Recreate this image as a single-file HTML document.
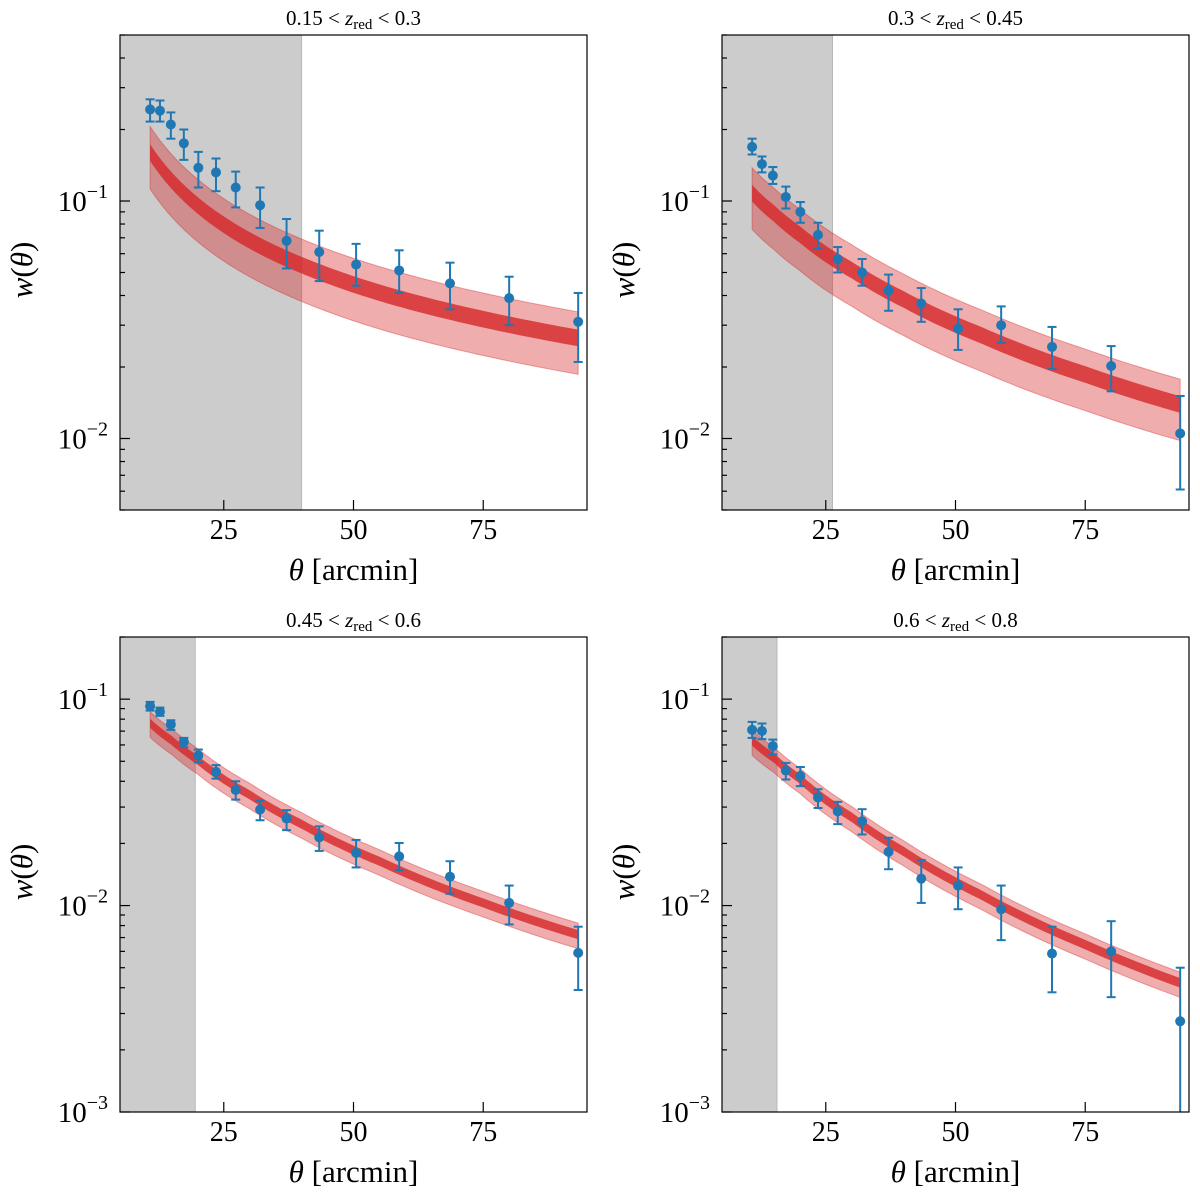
<!DOCTYPE html>
<html><head><meta charset="utf-8">
<style>
html,body{margin:0;padding:0;background:#fff;}
svg{display:block;font-family:"Liberation Serif","DejaVu Serif",serif;}
</style></head>
<body>
<svg id="fig" width="1200" height="1196" viewBox="0 0 1200 1196" xmlns="http://www.w3.org/2000/svg"></svg>
<script>
// ---- data ----
const thetas = [10.8,12.7,14.8,17.3,20.1,23.5,27.3,32,37.1,43.4,50.5,58.8,68.6,80,93.3];
const xTicks = [25,50,75];
const titles = ["0.15","0.3","0.3","0.45","0.45","0.6","0.6","0.8"];
const shadeEdges = [40, 26.3, 19.5, 15.6];

const p1Val = [0.243,0.240,0.210,0.175,0.138,0.132,0.114,0.096,0.068,0.061,0.054,0.051,0.045,0.039,0.031];
const p1Hi  = [0.268,0.265,0.236,0.200,0.161,0.151,0.133,0.114,0.084,0.075,0.066,0.062,0.055,0.048,0.041];
const p1Lo  = [0.216,0.216,0.183,0.149,0.114,0.110,0.094,0.077,0.052,0.046,0.044,0.041,0.035,0.030,0.021];

const p2Val = [0.169,0.143,0.128,0.104,0.090,0.072,0.057,0.050,0.042,0.037,0.029,0.030,0.0243,0.0202,0.0105];
const p2Hi  = [0.183,0.154,0.139,0.115,0.099,0.081,0.064,0.057,0.049,0.043,0.035,0.036,0.0295,0.0245,0.0151];
const p2Lo  = [0.157,0.132,0.118,0.093,0.081,0.063,0.050,0.044,0.0345,0.031,0.0236,0.0253,0.0196,0.0158,0.0061];

const p3Val = [0.0925,0.087,0.0754,0.0621,0.0533,0.0444,0.0363,0.0292,0.0264,0.0214,0.0180,0.0173,0.0138,0.0103,0.0059];
const p3Hi  = [0.097,0.091,0.079,0.0649,0.0570,0.0479,0.0400,0.0322,0.0290,0.0242,0.0208,0.0201,0.0164,0.0125,0.0079];
const p3Lo  = [0.088,0.083,0.071,0.0585,0.0494,0.0412,0.0326,0.0259,0.0232,0.0184,0.0153,0.0148,0.0114,0.0081,0.0039];

const p4Val = [0.0710,0.0701,0.0592,0.0451,0.0425,0.0334,0.0286,0.0256,0.0182,0.0135,0.0125,0.0096,0.00585,0.0060,0.00275];
const p4Hi  = [0.0776,0.0762,0.0637,0.0491,0.0469,0.0366,0.0318,0.0293,0.0213,0.0166,0.0153,0.0125,0.0079,0.0084,0.0050];
const p4Lo  = [0.0649,0.0640,0.0539,0.0408,0.0379,0.0297,0.0248,0.0221,0.0150,0.0103,0.0096,0.0068,0.0038,0.0036,0.0008];

const modelTheta = [10.8,15,20,30,40,55,75,93.3];
const m1 = [0.160,0.1216,0.0957,0.0682,0.0537,0.0411,0.0318,0.0265];
const m2 = [0.1079,0.0887,0.0723,0.0512,0.0385,0.0272,0.0186,0.0139];
const m3 = [0.0764,0.0630,0.0506,0.0344,0.0248,0.0164,0.0103,0.00723];
const m4 = [0.0628,0.0519,0.0411,0.0268,0.0183,0.01125,0.00647,0.00422];
// band half widths in dex: [dark, lightUp, lightDown]
const bandDex1 = [0.035,0.11,0.153];
const bandDex2 = [0.035,0.107,0.152];
const bandDex3 = [0.022,0.056,0.068];
const bandDex4 = [0.023,0.052,0.07];

// ---- drawing ----
const NS = "http://www.w3.org/2000/svg";
const svg = document.getElementById('fig');
function el(tag, attrs, parent){
  const e = document.createElementNS(NS, tag);
  for (const k in attrs) e.setAttribute(k, attrs[k]);
  (parent||svg).appendChild(e);
  return e;
}
const panels = [
  {L:120,T:35,W:467,H:475,ymin:0.005,ymax:0.5,dec:[-2,-1],val:p1Val,hi:p1Hi,lo:p1Lo,m:m1,bd:bandDex1},
  {L:722,T:35,W:467,H:475,ymin:0.005,ymax:0.5,dec:[-2,-1],val:p2Val,hi:p2Hi,lo:p2Lo,m:m2,bd:bandDex2},
  {L:120,T:637,W:467,H:475,ymin:0.001,ymax:0.2,dec:[-3,-2,-1],val:p3Val,hi:p3Hi,lo:p3Lo,m:m3,bd:bandDex3},
  {L:722,T:637,W:467,H:475,ymin:0.001,ymax:0.2,dec:[-3,-2,-1],val:p4Val,hi:p4Hi,lo:p4Lo,m:m4,bd:bandDex4}
];
const XMIN=5, XMAX=95;
function interpLog(th, mt, mv){
  const lt = Math.log10(th);
  for (let i=0;i<mt.length-1;i++){
    const a=Math.log10(mt[i]), b=Math.log10(mt[i+1]);
    if (lt<=b || i===mt.length-2){
      const f=(lt-a)/(b-a);
      return Math.log10(mv[i])*(1-f)+Math.log10(mv[i+1])*f;
    }
  }
}
panels.forEach((p,pi)=>{
  const g = el('g',{});
  
  
  const sx = t => p.L + (t-XMIN)/(XMAX-XMIN)*p.W;
  const ly0=Math.log10(p.ymin), ly1=Math.log10(p.ymax);
  const syl = l => p.T + (ly1-l)/(ly1-ly0)*p.H;
  const sy = v => syl(Math.log10(v));
  const cp = el('clipPath',{id:'clip'+pi},g);
  el('rect',{x:p.L,y:p.T,width:p.W,height:p.H},cp);
  const plot = el('g',{'clip-path':'url(#clip'+pi+')'},g);
  // shade
  const sh = el('rect',{x:p.L,y:p.T,width:sx(shadeEdges[pi])-p.L,height:p.H,fill:'#cccccc',stroke:'#b8b8b8','stroke-width':1},plot);
  
  
  // bands
  const N=120, t0=modelTheta[0], t1=modelTheta[modelTheta.length-1];
  function bandPath(up,dn){
    let top=[],bot=[];
    for(let i=0;i<=N;i++){
      const t=t0*Math.pow(t1/t0,i/N);
      const c=interpLog(t,modelTheta,p.m);
      top.push(sx(t).toFixed(2)+','+syl(c+up).toFixed(2));
      bot.push(sx(t).toFixed(2)+','+syl(c-dn).toFixed(2));
    }
    return 'M'+top.join('L')+'L'+bot.reverse().join('L')+'Z';
  }
  const lb = el('path',{d:bandPath(p.bd[1],p.bd[2]),fill:'#d62728','fill-opacity':0.38,stroke:'#d62728','stroke-opacity':0.4,'stroke-width':1},plot);
  
  
  const db = el('path',{d:bandPath(p.bd[0],p.bd[0]),fill:'#d62728','fill-opacity':0.8,stroke:'none'},plot);
  
  
  // points
  thetas.forEach((t,i)=>{
    const x=sx(t), yh=sy(p.hi[i]), yl=sy(Math.max(p.lo[i],1e-6)), y=sy(p.val[i]);
    const pg = el('g',{},plot);
    
    
    el('line',{x1:x,x2:x,y1:yh,y2:yl,stroke:'#1f77b4','stroke-width':2},pg);
    el('line',{x1:x-4.5,x2:x+4.5,y1:yh,y2:yh,stroke:'#1f77b4','stroke-width':2},pg);
    el('line',{x1:x-4.5,x2:x+4.5,y1:yl,y2:yl,stroke:'#1f77b4','stroke-width':2},pg);
    el('circle',{cx:x,cy:y,r:5,fill:'#1f77b4'},pg);
  });
  // frame
  const fr = el('rect',{x:p.L,y:p.T,width:p.W,height:p.H,fill:'none',stroke:'#000','stroke-width':1.2},g);
  
  
  // x ticks
  xTicks.forEach(v=>{
    const x=sx(v), yb=p.T+p.H;
    el('line',{x1:x,x2:x,y1:yb,y2:yb-10,stroke:'#000','stroke-width':1.2},g);
    const tx = el('text',{x:x,y:yb+29,'font-size':28,'text-anchor':'middle',fill:'#000'},g);
    tx.textContent=String(v);
    
    
  });
  // y ticks
  for(let d=Math.floor(ly0); d<=Math.ceil(ly1); d++){
    for(let k=1;k<10;k++){
      const v=k*Math.pow(10,d), l=Math.log10(v);
      if(l<ly0-1e-9||l>ly1+1e-9) continue;
      const y=syl(l);
      el('line',{x1:p.L,x2:p.L+(k===1?10:5),y1:y,y2:y,stroke:'#000','stroke-width':1.2},g);
    }
  }
  p.dec.forEach(d=>{
    const y=syl(d);
    const tx = el('text',{x:p.L-12,y:y+10,'font-size':29,'text-anchor':'end',fill:'#000'},g);
    
    
    const a=el('tspan',{},tx); a.textContent='10';
    const b=el('tspan',{dy:-13,'font-size':20},tx); b.textContent='\u2212'+(-d);
  });
  // axis labels
  const xl = el('text',{x:p.L+p.W/2,y:p.T+p.H+70,'font-size':31,'text-anchor':'middle',fill:'#000'},g);
  
  
  const xa=el('tspan',{'font-style':'italic'},xl); xa.textContent='\u03b8';
  const xb=el('tspan',{},xl); xb.textContent=' [arcmin]';
  const yx=p.L-88, yy=p.T+235;
  const yl = el('text',{x:yx,y:yy,'font-size':31,'text-anchor':'middle',fill:'#000',transform:'rotate(-90 '+yx+' '+yy+')'},g);
  
  
  const ya=el('tspan',{'font-style':'italic'},yl); ya.textContent='w';
  const yb2=el('tspan',{},yl); yb2.textContent='(';
  const yc=el('tspan',{'font-style':'italic'},yl); yc.textContent='\u03b8';
  const yd=el('tspan',{},yl); yd.textContent=')';
  // title
  const tt = el('text',{x:p.L+p.W/2,y:p.T-10,'font-size':21,'text-anchor':'middle',fill:'#000'},g);
  
  
  const t1a=el('tspan',{},tt); t1a.textContent=titles[pi*2]+' < ';
  const t1b=el('tspan',{'font-style':'italic'},tt); t1b.textContent='z';
  const t1c=el('tspan',{'font-size':15,dy:4},tt); t1c.textContent='red';
  const t1d=el('tspan',{dy:-4},tt); t1d.textContent=' < '+titles[pi*2+1];
});
</script>
</body></html>
